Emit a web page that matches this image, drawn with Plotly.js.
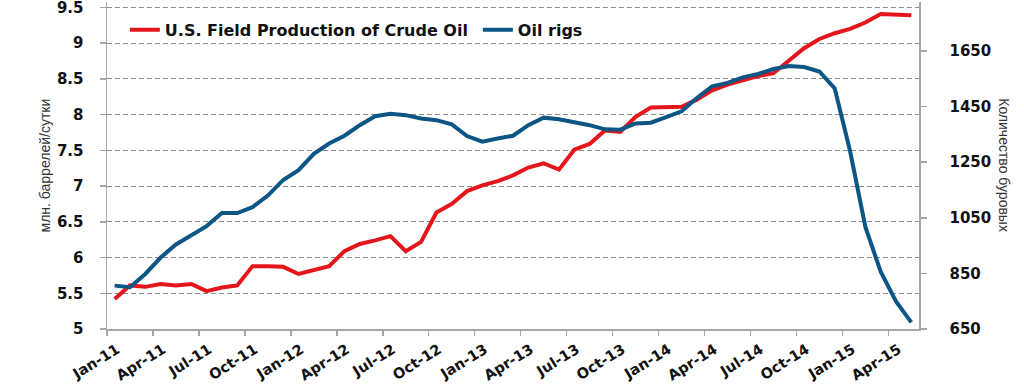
<!DOCTYPE html>
<html>
<head>
<meta charset="utf-8">
<script src="https://cdn.plot.ly/plotly-3.0.1.min.js"></script>
<style>html,body{margin:0;padding:0;background:#fff;}#chart{width:1024px;height:386px;}</style>
</head>
<body>
<div id="chart"></div>
<script>
const months = [
  "Jan-11","Feb-11","Mar-11","Apr-11","May-11","Jun-11","Jul-11","Aug-11","Sep-11","Oct-11","Nov-11","Dec-11",
  "Jan-12","Feb-12","Mar-12","Apr-12","May-12","Jun-12","Jul-12","Aug-12","Sep-12","Oct-12","Nov-12","Dec-12",
  "Jan-13","Feb-13","Mar-13","Apr-13","May-13","Jun-13","Jul-13","Aug-13","Sep-13","Oct-13","Nov-13","Dec-13",
  "Jan-14","Feb-14","Mar-14","Apr-14","May-14","Jun-14","Jul-14","Aug-14","Sep-14","Oct-14","Nov-14","Dec-14",
  "Jan-15","Feb-15","Mar-15","Apr-15","May-15"
];
const production = [
  5.42,5.61,5.59,5.63,5.61,5.63,5.53,5.58,5.61,5.88,5.88,5.87,
  5.77,5.82,5.88,6.09,6.19,6.24,6.30,6.09,6.22,6.63,6.75,6.93,
  7.01,7.07,7.15,7.26,7.32,7.23,7.51,7.59,7.78,7.76,7.97,8.10,
  8.10,8.11,8.21,8.34,8.42,8.48,8.54,8.58,8.75,8.93,9.06,9.14,
  9.20,9.29,9.41,9.40,9.39
];
const rigs = [
  806,800,848,907,954,989,1020,1067,1067,1088,1130,1186,
  1221,1280,1317,1345,1383,1415,1424,1419,1407,1401,1386,1344,
  1324,1335,1345,1383,1410,1404,1395,1383,1368,1367,1389,1392,
  1412,1433,1481,1523,1535,1555,1567,1585,1596,1592,1576,1515,
  1290,1017,856,749,674
];
const tickMonths = ["Jan-11","Apr-11","Jul-11","Oct-11","Jan-12","Apr-12","Jul-12","Oct-12","Jan-13","Apr-13","Jul-13","Oct-13","Jan-14","Apr-14","Jul-14","Oct-14","Jan-15","Apr-15"];
const leftTicks = [5, 5.5, 6, 6.5, 7, 7.5, 8, 8.5, 9, 9.5];
const rightTicks = [650, 850, 1050, 1250, 1450, 1650];
const leftTitle = "млн. баррелей/сутки";
const rightTitle = "Количество буровых";
const seriesNames = ["U.S. Field Production of Crude Oil", "Oil rigs"];

const xIdx = months.map((m, i) => i);
const tickIdx = tickMonths.map(m => months.indexOf(m) - 0.5);

const tickFont = {family: "DejaVu Sans, Verdana, sans-serif", size: 15, color: "#111", weight: "bold"};
const titleFont = {family: "Liberation Sans Narrow, Arial Narrow, Liberation Sans, sans-serif", size: 14, color: "#333"};
const axisGray = "#a6a6a6";

const traces = [
  {x: xIdx, y: production, name: seriesNames[0], type: "scatter", mode: "lines",
   line: {color: "#e5151c", width: 4}, xaxis: "x", yaxis: "y"},
  {x: xIdx, y: rigs, name: seriesNames[1], type: "scatter", mode: "lines",
   line: {color: "#0c5685", width: 4}, xaxis: "x", yaxis: "y2"}
];

const layout = {
  width: 1024, height: 386,
  margin: {l: 107, r: 105, t: 2, b: 57, pad: 0},
  paper_bgcolor: "#fff", plot_bgcolor: "#fff",
  showlegend: true,
  legend: {orientation: "h", x: 0.022, y: 0.915, xanchor: "left", yanchor: "middle",
           font: {family: "DejaVu Sans, Verdana, sans-serif", size: 16, color: "#111", weight: "bold"},
           bgcolor: "rgba(0,0,0,0)", itemwidth: 30, tracegroupgap: 0, entrywidth: 308},
  xaxis: {
    range: [-0.5, months.length - 0.5], tickmode: "array", tickvals: tickIdx, ticktext: tickMonths,
    tickangle: -32, ticks: "outside", ticklen: 5, tickcolor: axisGray, tickwidth: 1.5,
    ticklabelshift: 10, ticklabelstandoff: 0, ticklabeloverflow: "allow",
    tickfont: Object.assign({}, tickFont, {size: 14.5}),
    showline: true, linecolor: axisGray, linewidth: 1.5, showgrid: false, zeroline: false
  },
  yaxis: {
    range: [5, 9.577], tickmode: "array", tickvals: leftTicks, ticktext: leftTicks.map(String),
    ticks: "outside", ticklen: 6, tickcolor: axisGray, tickwidth: 1.5,
    ticklabelstandoff: 13, ticklabeloverflow: "allow",
    tickfont: tickFont,
    showline: true, linecolor: axisGray, linewidth: 1.5,
    showgrid: true, gridcolor: "#8c8c8c", gridwidth: 1, griddash: "5px,3px", zeroline: false
  },
  yaxis2: {
    overlaying: "y", side: "right", anchor: "x",
    range: [650, 1826], tickmode: "array", tickvals: rightTicks,
    ticks: "outside", ticklen: 6, tickcolor: axisGray, tickwidth: 1.5, ticklabelstandoff: 20,
    ticklabeloverflow: "allow",
    tickfont: tickFont,
    showline: true, linecolor: axisGray, linewidth: 1.5, showgrid: false, zeroline: false
  },
  annotations: [
    {text: leftTitle, xref: "paper", yref: "paper", x: -0.0764, y: 0.5, xanchor: "center", yanchor: "middle",
     textangle: -90, showarrow: false, font: titleFont},
    {text: rightTitle, xref: "paper", yref: "paper", x: 1.105, y: 0.5, xanchor: "center", yanchor: "middle",
     textangle: 90, showarrow: false, font: titleFont}
  ]
};

Plotly.newPlot("chart", traces, layout, {staticPlot: true, displayModeBar: false});
</script>
</body>
</html>
